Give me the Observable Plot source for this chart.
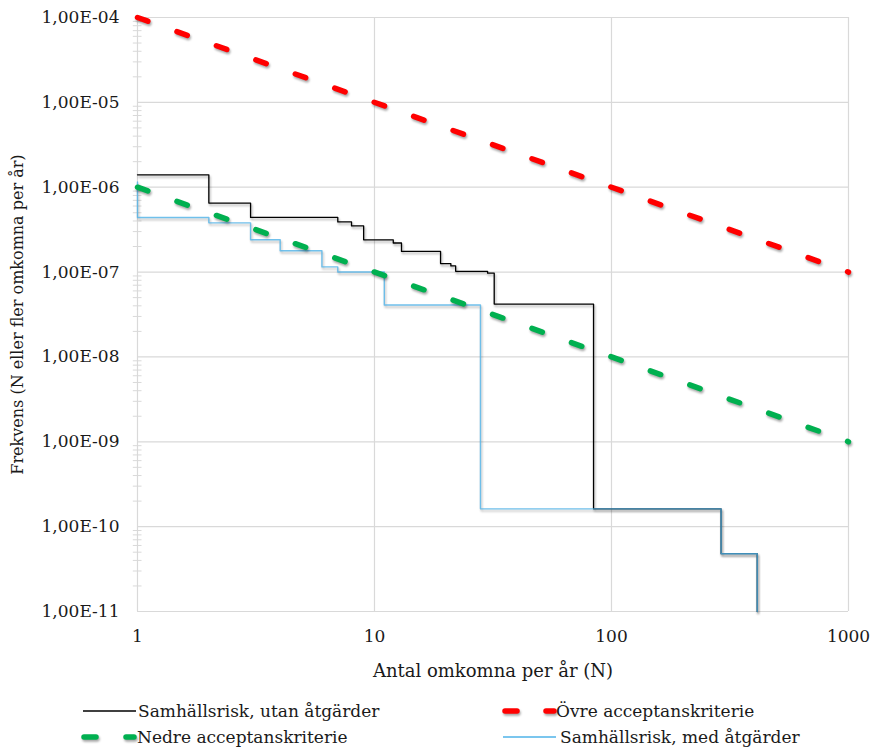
<!DOCTYPE html>
<html><head><meta charset="utf-8">
<script src="https://cdn.jsdelivr.net/npm/d3@7"></script>
<script src="https://cdn.jsdelivr.net/npm/@observablehq/plot@0.6"></script>
<style>
body{margin:0;background:#fff;font-family:"DejaVu Serif",serif;}
#chart{position:relative;width:870px;height:755px;overflow:hidden;}
#chart svg{display:block;}
</style></head><body><div id="chart"></div>
<script>
// Samhällsrisk, utan åtgärder (N, frekvens)
const utanN = [1, 2, 3, 7, 8, 9, 12, 13, 19, 21, 22, 30, 32, 84, 290, 412];
const utanF = [1.4e-6, 6.5e-7, 4.4e-7, 3.9e-7, 3.5e-7, 2.4e-7, 2.2e-7, 1.75e-7, 1.26e-7, 1.18e-7, 1.02e-7, 9.7e-8, 4.2e-8, 1.62e-10, 4.8e-11, 1e-11];
// Samhällsrisk, med åtgärder
const medN = [1, 1, 2, 3, 4, 6, 7, 11, 28, 290, 412];
const medF = [1.15e-6, 4.4e-7, 3.8e-7, 2.4e-7, 1.78e-7, 1.15e-7, 1.0e-7, 4.1e-8, 1.62e-10, 4.8e-11, 1e-11];
// Acceptanskriterier
const kritN = [1, 1000];
const ovreF = [1e-4, 1e-7];
const nedreF = [1e-6, 1e-9];
// Axes
const xTicks = [1, 10, 100, 1000];
const yTicks = [1e-11, 1e-10, 1e-9, 1e-8, 1e-7, 1e-6, 1e-5, 1e-4];
const minorMult = [2, 3, 4, 5, 6, 7, 8, 9];
const labels = {
  utan: "Samhällsrisk, utan åtgärder",
  med: "Samhällsrisk, med åtgärder",
  ovre: "Övre acceptanskriterie",
  nedre: "Nedre acceptanskriterie",
  x: "Antal omkomna per år (N)",
  y: "Frekvens (N eller fler omkomna per år)"
};

const toRows = (xs, ys) => xs.map((x, i) => ({x, y: ys[i]}));
const utan = toRows(utanN, utanF);
const med = toRows(medN, medF);
const ovre = toRows(kritN, ovreF);
const nedre = toRows(kritN, nedreF);
const minorY = yTicks.slice(0, -1).flatMap(d => minorMult.map(m => d * m));
const fmtY = v => "1,00E-" + String(Math.round(-Math.log10(v))).padStart(2, "0");

const grid = "#d9d9d9";
const dash = "11,30.9";
const plot = Plot.plot({
  width: 870, height: 690,
  marginLeft: 137, marginRight: 22, marginTop: 17, marginBottom: 79,
  style: {fontFamily: "DejaVu Serif", fontSize: "17px", color: "#1a1a1a", background: "#fff", overflow: "visible"},
  x: {type: "log", domain: [1, 1000]},
  y: {type: "log", domain: [1e-11, 1e-4]},
  marks: [
    Plot.gridX(xTicks, {stroke: grid, strokeOpacity: 1, strokeWidth: 1.2}),
    Plot.gridY(yTicks, {stroke: grid, strokeOpacity: 1, strokeWidth: 1.2}),
    Plot.ruleY(minorY, {y: d => d, x1: 0.96, x2: 1.045, stroke: grid, strokeWidth: 1}),
    Plot.axisX(xTicks, {tickSize: 0, tickPadding: 18, tickFormat: d => String(d), label: null, fontSize: 17}),
    Plot.text([labels.x], {frameAnchor: "bottom", dy: 60, lineAnchor: "middle", fontSize: 18, fill: "#1a1a1a"}),
    Plot.axisY(yTicks, {tickSize: 0, tickPadding: 18, tickFormat: fmtY, fontSize: 17, label: null}),
    Plot.axisY(yTicks, {tickSize: 0, tickFormat: () => "", label: labels.y, labelAnchor: "center", labelOffset: 126, labelArrow: "none", fontSize: 16}),
    Plot.line(utan, {x: "x", y: "y", curve: "step-after", stroke: "#000", strokeWidth: 1.3}),
    Plot.line(med, {x: "x", y: "y", curve: "step-after", stroke: "#4fb3e8", strokeWidth: 1.4, strokeOpacity: 0.8}),
    Plot.line(ovre, {x: "x", y: "y", stroke: "#ff0000", strokeWidth: 5.5, strokeDasharray: dash, strokeLinecap: "round"}),
    Plot.line(nedre, {x: "x", y: "y", stroke: "#00b050", strokeWidth: 5.5, strokeDasharray: dash, strokeLinecap: "round"})
  ]
});
d3.select(plot).selectAll('g[aria-label="line"] path')
  .style("filter", "drop-shadow(1.5px 2px 1.2px rgba(0,0,0,0.35))");
document.getElementById("chart").appendChild(plot);

// Legend
const leg = d3.select("#chart").append("svg").attr("width", 870).attr("height", 65)
  .style("font-family", "DejaVu Serif").style("font-size", "17px").style("fill", "#1a1a1a");
const sh = "drop-shadow(1.5px 2px 1.2px rgba(0,0,0,0.35))";
const row1 = 21, row2 = 47;
leg.append("line").attr("x1", 83).attr("x2", 136).attr("y1", row1).attr("y2", row1).attr("stroke", "#000").attr("stroke-width", 1.3);
leg.append("text").attr("x", 138).attr("y", row1).attr("dy", "0.35em").text(labels.utan);
[[505, 517], [546, 554]].forEach(([a, b]) => leg.append("line").attr("x1", a).attr("x2", b).attr("y1", row1).attr("y2", row1)
  .attr("stroke", "#ff0000").attr("stroke-width", 5.5).attr("stroke-linecap", "round").style("filter", sh));
leg.append("text").attr("x", 556).attr("y", row1).attr("dy", "0.35em").text(labels.ovre);
[[84, 96], [126, 134]].forEach(([a, b]) => leg.append("line").attr("x1", a).attr("x2", b).attr("y1", row2).attr("y2", row2)
  .attr("stroke", "#00b050").attr("stroke-width", 5.5).attr("stroke-linecap", "round").style("filter", sh));
leg.append("text").attr("x", 137).attr("y", row2).attr("dy", "0.35em").text(labels.nedre);
leg.append("line").attr("x1", 503).attr("x2", 556).attr("y1", row2).attr("y2", row2).attr("stroke", "#4fb3e8").attr("stroke-width", 1.6);
leg.append("text").attr("x", 560).attr("y", row2).attr("dy", "0.35em").text(labels.med);
</script></body></html>
